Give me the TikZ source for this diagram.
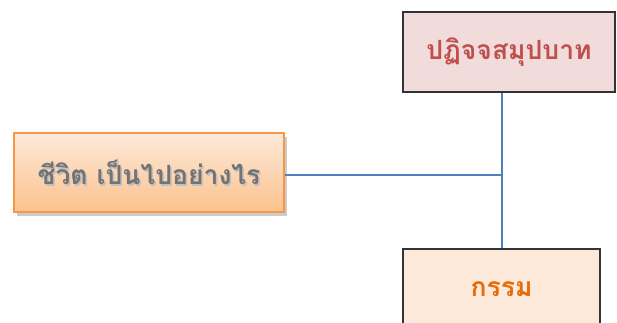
\documentclass[tikz,border=0pt]{standalone}
\usepackage{fontspec}
\newfontfamily\thaifont[Script=Thai]{Loma}
\usetikzlibrary{shadows}
\definecolor{peachtop}{HTML}{FDE9D9}
\definecolor{peachbot}{HTML}{FBC28E}
\definecolor{orangeline}{HTML}{F79646}
\definecolor{rosefill}{HTML}{F2DCDB}
\definecolor{redtext}{HTML}{C0504D}
\definecolor{orangetext}{HTML}{E46C0A}
\definecolor{linkblue}{HTML}{4F81BD}
\tikzset{
	box/.style={draw=black!80, line width=1.2pt, minimum width=212pt, minimum height=80pt, inner sep=0pt, font=\thaifont\bfseries\fontsize{26.5}{30}\selectfont},
	link/.style={draw=linkblue, line width=1.2pt}
}
\begin{document}
\begin{tikzpicture}[x=1pt,y=-1pt]
				\useasboundingbox (0,0) rectangle (617,323);
				\clip (0,0) rectangle (617,323);
				\node[box, draw=orangeline, line width=1.5pt, top color=peachtop, bottom color=peachbot, minimum width=270pt, minimum height=79pt, drop shadow={shadow xshift=3pt, shadow yshift=-4pt, opacity=0.4}] (life) at (149,172.5) {};
				% text with a soft shadow
				\node[font=\thaifont\bfseries\fontsize{26.5}{30}\selectfont, text=black!25] at ([xshift=1.5pt,yshift=-1.5pt]life.center) {ชีวิต เป็นไปอย่างไร};
				\node[font=\thaifont\bfseries\fontsize{26.5}{30}\selectfont, text=black!55] (lifetext) at (life.center) {ชีวิต เป็นไปอย่างไร};
				\node[box, fill=rosefill, text=redtext] (pati) at (509,52) {ปฏิจจสมุปบาท};
				\node[box, fill=peachtop, text=orangetext, minimum width=197pt] (kamma) at (501.5,289) {กรรม};
				\coordinate (joint) at (502,175);
				\draw[link] (life.east |- joint) -- (joint);
				\draw[link] (pati.south -| joint) -- (kamma.north -| joint);
\end{tikzpicture}
\end{document}
